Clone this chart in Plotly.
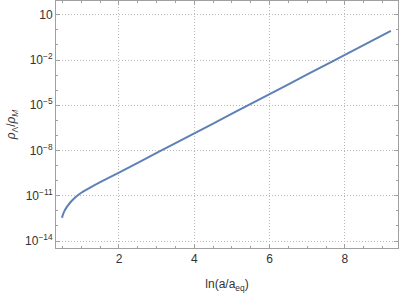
import plotly.graph_objects as go

# Data: x = ln(a/a_eq), log10(rho_Lambda/rho_M)
x_vals = [0.486, 0.50, 0.55, 0.60, 0.65, 0.70, 0.80, 0.90, 1.00, 1.20, 1.50,
          2.00, 3.00, 4.00, 5.00, 6.00, 7.00, 8.00, 9.22]
log_ratio = [-12.46, -12.33, -12.02, -11.80, -11.62, -11.46, -11.20, -10.98, -10.80,
             -10.51, -10.10, -9.46, -8.16, -6.86, -5.56, -4.26, -2.96, -1.66, -0.07]
ratio = [10 ** v for v in log_ratio]

x_ticks = [2, 4, 6, 8]
y_tick_exps = [-14, -11, -8, -5, -2, 1]
y_tickvals = [10.0 ** e for e in y_tick_exps]
y_ticktext = ["10" if e == 1 else "10<sup>\u2212%d</sup>" % (-e) for e in y_tick_exps]
y_minor = [10.0 ** e for e in range(-14, 2)]
x_minor = [0.5 * i for i in range(1, 19)]

fig = go.Figure()
fig.add_trace(go.Scatter(x=x_vals, y=ratio, mode="lines",
                         line=dict(color="#5E81B5", width=2, shape="spline", smoothing=0.6),
                         showlegend=False))

font = dict(family="Liberation Sans, Arial", size=12, color="#333333")
axis_common = dict(showline=True, linecolor="#a0a0a0", linewidth=1, mirror="allticks",
                   ticks="inside", ticklen=4, tickcolor="#a0a0a0",
                   showgrid=True, gridcolor="#b8b8b8", griddash="1px,2px", gridwidth=1,
                   zeroline=False, automargin=False, tickfont=font)

fig.update_layout(
    width=403, height=300,
    margin=dict(l=56, r=5, t=1, b=52, autoexpand=False),
    paper_bgcolor="white", plot_bgcolor="white",
    xaxis=dict(range=[0.327, 9.41], tickvals=x_ticks,
               minor=dict(tickvals=x_minor, ticklen=2, tickcolor="#a0a0a0", ticks="inside", showgrid=False),
               title=dict(text="ln(a/a<sub>eq</sub>)", standoff=14, font=font),
               **axis_common),
    yaxis=dict(type="log", range=[-14.46, 1.91], tickvals=y_tickvals, ticktext=y_ticktext,
               minor=dict(tickvals=y_minor, ticklen=2, tickcolor="#a0a0a0", ticks="inside", showgrid=False),
               title=dict(text="<i>\u03c1</i><sub>\u039b</sub>/<i>\u03c1</i><sub><i>M</i></sub>", standoff=6, font=font),
               **axis_common),
)

fig.write_html("out.html", config={"displayModeBar": False},
               post_script="document.body.style.margin='0';document.body.style.overflow='hidden';")
